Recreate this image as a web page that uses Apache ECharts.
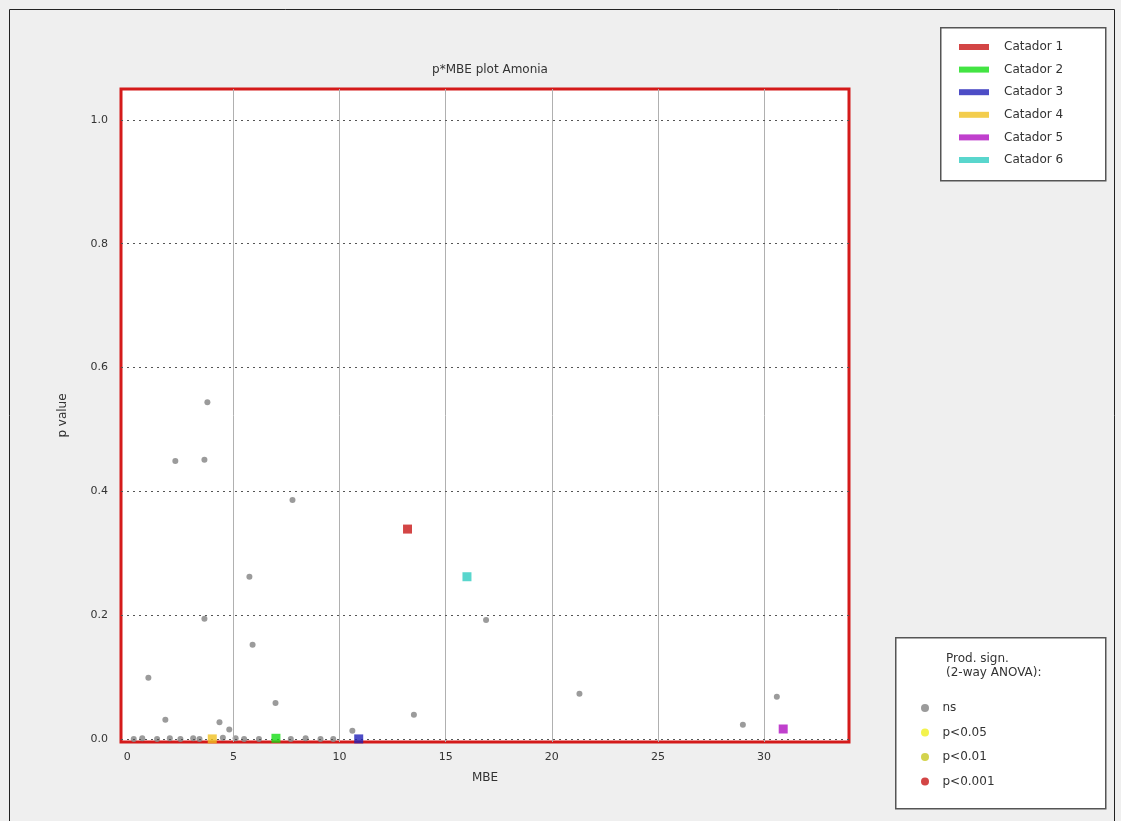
<!DOCTYPE html>
<html><head><meta charset="utf-8">
<script src="https://cdn.jsdelivr.net/npm/echarts@6/dist/echarts.min.js"></script>
<style>html,body{margin:0;padding:0;background:#efefef}#c{width:1121px;height:821px}</style>
</head><body><div id="c"></div>
<script>
// ---- data ----
const xTicks = [0, 5, 10, 15, 20, 25, 30];
const yTicks = [0.0, 0.2, 0.4, 0.6, 0.8, 1.0];
const catadorNames = ['Catador 1', 'Catador 2', 'Catador 3', 'Catador 4', 'Catador 5', 'Catador 6'];
const catadorColors = ['#c81616', '#14dd14', '#2020b8', '#f0c020', '#b010c0', '#30ccc0'];
// one highlighted point per taster: [MBE, p value]
const catadorPoints = [[13.2, 0.339], [7.0, 0.001], [10.9, 0.0], [4.0, 0.0], [30.9, 0.016], [16.0, 0.262]];
const signNames = ['ns', 'p<0.05', 'p<0.01', 'p<0.001'];
const signColors = ['#8a8a8a', '#f0f020', '#c8c820', '#c81616'];
// non-significant products
const nsPoints = [
  [3.77, 0.544], [2.26, 0.449], [3.63, 0.451], [7.78, 0.386], [5.75, 0.262],
  [3.63, 0.194], [5.9, 0.152], [0.99, 0.099], [16.9, 0.192], [21.3, 0.073],
  [13.5, 0.039], [6.98, 0.058], [1.79, 0.031], [4.34, 0.027], [29.0, 0.023],
  [30.6, 0.068], [4.8, 0.015], [10.6, 0.013],
  [0.3, 0.0], [0.7, 0.001], [1.4, 0.0], [2.0, 0.001], [2.5, 0.0], [3.1, 0.001],
  [3.4, 0.0], [4.5, 0.002], [5.1, 0.001], [5.5, 0.0], [6.2, 0.0], [7.7, 0.0],
  [8.4, 0.001], [9.1, 0.0], [9.7, 0.0]
];
const titleText = 'p*MBE plot Amonia';
const xName = 'MBE';
const yName = 'p value';

// ---- chart ----
const chart = echarts.init(document.getElementById('c'), null, {renderer: 'canvas'});
const txt = '#333';
const font = 'DejaVu Sans';

const series = [];
series.push({
  name: 'ns', type: 'scatter', data: nsPoints, symbol: 'circle', symbolSize: 6,
  itemStyle: {color: signColors[0], opacity: 0.85}, z: 3,
  markLine: {
    silent: true, symbol: 'none', label: {show: false}, animation: false,
    data: xTicks.filter(v => v !== 0).map(v => ({xAxis: v, lineStyle: {color: '#b0b0b0', width: 1, type: 'solid'}}))
      .concat(yTicks.map(v => ({yAxis: v, lineStyle: {color: '#555', width: 1, type: [2, 4]}})))
  }
});
for (let i = 1; i < signNames.length; i++) {
  series.push({name: signNames[i], type: 'scatter', data: [], itemStyle: {color: signColors[i]}});
}
catadorNames.forEach((n, i) => {
  series.push({
    name: n, type: 'scatter', data: [catadorPoints[i]], symbol: 'rect', symbolSize: 9,
    itemStyle: {color: catadorColors[i]}, z: 5
  });
});

chart.setOption({
  animation: false,
  backgroundColor: '#efefef',
  title: {
    text: titleText, left: 485, top: 59, textAlign: 'center',
    textStyle: {fontFamily: font, fontSize: 12, fontWeight: 'normal', color: txt}
  },
  grid: {
    left: 121, right: 272, top: 89, bottom: 79, show: true,
    backgroundColor: '#ffffff', borderColor: '#d41a1a', borderWidth: 3, containLabel: false
  },
  xAxis: {
    type: 'value', min: -0.3, max: 34, name: xName, nameLocation: 'middle', nameGap: 30,
    nameTextStyle: {fontFamily: font, fontSize: 12, color: txt},
    axisLine: {show: false},
    axisTick: {show: false},
    splitLine: {show: false},
    axisLabel: {customValues: xTicks, fontFamily: font, fontSize: 11, color: txt, margin: 10}
  },
  yAxis: {
    type: 'value', min: -0.005, max: 1.05, name: yName, nameLocation: 'middle', nameGap: 52,
    nameTextStyle: {fontFamily: font, fontSize: 12, color: txt},
    axisLine: {show: false},
    axisTick: {show: false},
    splitLine: {show: false},
    axisLabel: {customValues: yTicks, formatter: v => v.toFixed(1), fontFamily: font, fontSize: 11, color: txt, margin: 13}
  },
  legend: [
    {
      data: catadorNames, orient: 'vertical', left: 954, top: 35,
      icon: 'rect', itemWidth: 30, itemHeight: 6, itemGap: 8.6,
      textStyle: {fontFamily: font, fontSize: 12, color: txt, padding: [0, 0, 0, 10], lineHeight: 14},
      selectedMode: false
    },
    {
      data: signNames, orient: 'vertical', left: 916, top: 696,
      icon: 'circle', itemWidth: 13, itemHeight: 8, itemGap: 10.5,
      textStyle: {fontFamily: font, fontSize: 12, color: txt, lineHeight: 14, padding: [0, 0, 0, 6]},
      selectedMode: false
    }
  ],
  graphic: [
    {type: 'rect', left: 7, top: 7, shape: {width: 1105, height: 830}, style: {fill: 'none', stroke: '#222', lineWidth: 1}, silent: true, z: -1},
    {type: 'rect', left: 940, top: 27, shape: {width: 165, height: 153}, style: {fill: '#fff', stroke: '#555', lineWidth: 1.5}, silent: true, z: -1},
    {type: 'rect', left: 895, top: 637, shape: {width: 210, height: 171}, style: {fill: '#fff', stroke: '#555', lineWidth: 1.5}, silent: true, z: -1},
    {type: 'text', left: 946, top: 652, style: {text: 'Prod. sign.\n(2-way ANOVA):', fill: txt, font: '12px "DejaVu Sans"', lineHeight: 14}, silent: true}
  ],
  series: series
});
</script>
</body></html>
